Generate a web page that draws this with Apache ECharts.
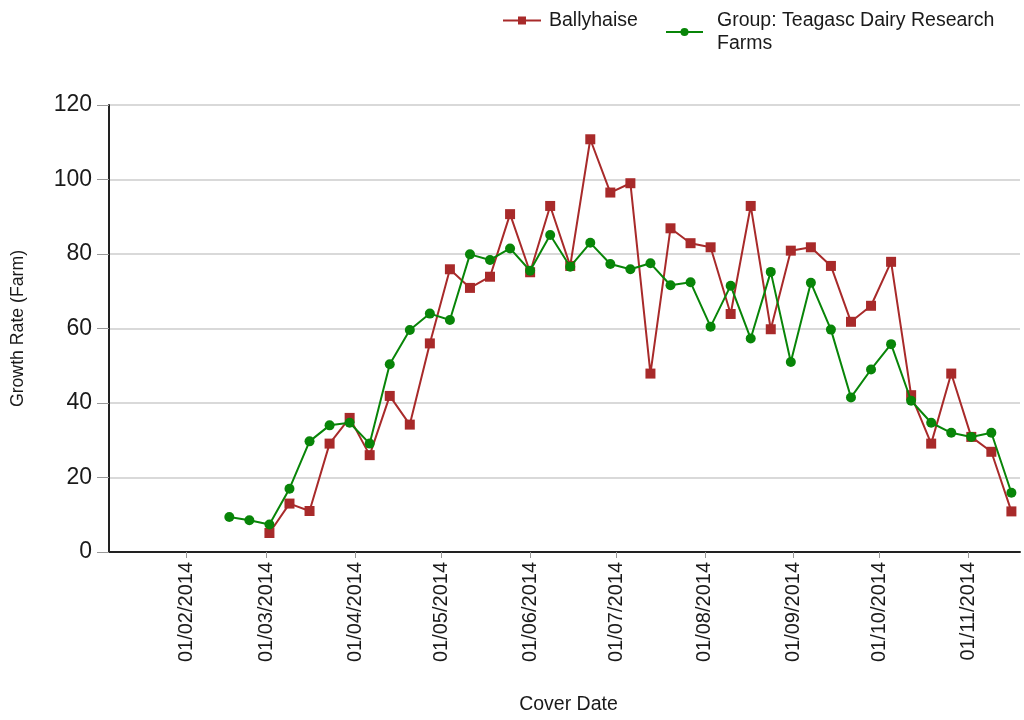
<!DOCTYPE html>
<html>
<head>
<meta charset="utf-8">
<script src="https://cdn.jsdelivr.net/npm/echarts@6/dist/echarts.min.js"></script>
<style>
    html, body { margin: 0; padding: 0; background: #fff; }
    #main { width: 1024px; height: 720px; }
</style>
</head>
<body>
<div id="main"></div>
<script>
// weekly cover dates
const coverDates = [
    '2014-02-16', '2014-02-23', '2014-03-02', '2014-03-09', '2014-03-16', '2014-03-23', '2014-03-30',
    '2014-04-06', '2014-04-13', '2014-04-20', '2014-04-27', '2014-05-04', '2014-05-11', '2014-05-18',
    '2014-05-25', '2014-06-01', '2014-06-08', '2014-06-15', '2014-06-22', '2014-06-29', '2014-07-06',
    '2014-07-13', '2014-07-20', '2014-07-27', '2014-08-03', '2014-08-10', '2014-08-17', '2014-08-24',
    '2014-08-31', '2014-09-07', '2014-09-14', '2014-09-21', '2014-09-28', '2014-10-05', '2014-10-12',
    '2014-10-19', '2014-10-26', '2014-11-02', '2014-11-09', '2014-11-16'
];

// Ballyhaise has no readings for the first two weeks
const ballyhaise = [
    null, null, 5.1, 13, 11, 29.1, 36, 26, 41.9, 34.2, 56, 75.9, 70.9, 73.9,
    90.7, 75.1, 92.9, 76.8, 110.8, 96.5, 99, 47.9, 86.9, 82.9, 81.8, 63.9, 92.9, 59.8,
    80.9, 81.8, 76.8, 61.8, 66.1, 77.9, 42.1, 29.1, 47.9, 30.9, 26.9, 10.9
];

const groupFarms = [
    9.4, 8.5, 7.4, 17, 29.7, 34, 34.7, 29.1, 50.4, 59.6, 64, 62.3, 79.9, 78.4,
    81.5, 75.5, 85.1, 76.6, 83, 77.3, 75.9, 77.5, 71.6, 72.4, 60.5, 71.5, 57.3, 75.2,
    51, 72.3, 59.7, 41.5, 49, 55.8, 40.6, 34.7, 32, 30.9, 32, 15.9
];

const seriesNames = ['Ballyhaise', 'Group: Teagasc Dairy Research Farms'];

const xRange = ['2014-01-05', '2014-11-19'];

const DAY = 24 * 3600 * 1000;
const toTime = s => echarts.number.parseDate(s).getTime();

const pairs = values => coverDates
    .map((d, i) => [toTime(d), values[i]])
    .filter(p => p[1] !== null);

const chart = echarts.init(document.getElementById('main'));
const font = 'Liberation Sans, Arial, sans-serif';
const legendText = { fontSize: 19.5, color: '#1a1a1a', lineHeight: 23 };

const option = {
    animation: false,
    textStyle: { fontFamily: font },
    // two legends so the single-line entry sits on the first line of the wrapped one
    legend: [
        {
            left: 502,
            top: 9,
            padding: 0,
            itemWidth: 38,
            itemHeight: 10,
            textStyle: { ...legendText, padding: [0, 0, 0, 3] },
            data: [seriesNames[0]]
        },
        {
            left: 665,
            top: 9,
            padding: 0,
            itemWidth: 37,
            itemHeight: 10,
            textStyle: { ...legendText, padding: [0, 0, 0, 9] },
            formatter: name => name.replace('Research ', 'Research\n'),
            data: [seriesNames[1]]
        }
    ],
    grid: {
        left: 109,
        right: 4,
        top: 105,
        bottom: 168
    },
    xAxis: {
        type: 'time',
        min: toTime(xRange[0]),
        max: toTime(xRange[1]),
        minInterval: 28 * DAY,
        maxInterval: 31 * DAY,
        name: 'Cover Date',
        nameLocation: 'middle',
        nameGap: 143,
        nameTextStyle: { fontSize: 19.5, color: '#1a1a1a', padding: [0, 0, 0, 8] },
        axisLine: { lineStyle: { color: '#222', width: 2 } },
        axisTick: {
            length: 6,
            lineStyle: { color: '#999' }
        },
        axisLabel: {
            rotate: 90,
            margin: 10,
            fontSize: 20,
            color: '#1a1a1a',
            showMinLabel: false,
            showMaxLabel: false,
            hideOverlap: false,
            formatter: v => echarts.time.format(v, '{dd}/{MM}/{yyyy}', false)
        },
        splitLine: { show: false }
    },
    yAxis: {
        type: 'value',
        min: 0,
        max: 120,
        interval: 20,
        name: 'Growth Rate (Farm)',
        nameLocation: 'middle',
        nameRotate: 90,
        nameGap: 82,
        nameTextStyle: { fontSize: 17.7, color: '#1a1a1a' },
        axisLine: { show: true, lineStyle: { color: '#222', width: 2 } },
        axisTick: { show: true, length: 12, lineStyle: { color: '#999' } },
        axisLabel: { fontSize: 23, color: '#1a1a1a', margin: 17 },
        splitLine: { lineStyle: { color: '#d9d9d9', width: 2 } }
    },
    series: [
        {
            name: seriesNames[0],
            type: 'line',
            data: pairs(ballyhaise),
            symbol: 'rect',
            symbolSize: 10,
            itemStyle: { color: '#a82a2a' },
            lineStyle: { width: 2, color: '#a82a2a' },
            z: 2
        },
        {
            name: seriesNames[1],
            type: 'line',
            data: pairs(groupFarms),
            symbol: 'circle',
            symbolSize: 10,
            itemStyle: { color: '#088508' },
            lineStyle: { width: 2, color: '#088508' },
            z: 3
        }
    ]
};

chart.setOption(option);
</script>
</body>
</html>
